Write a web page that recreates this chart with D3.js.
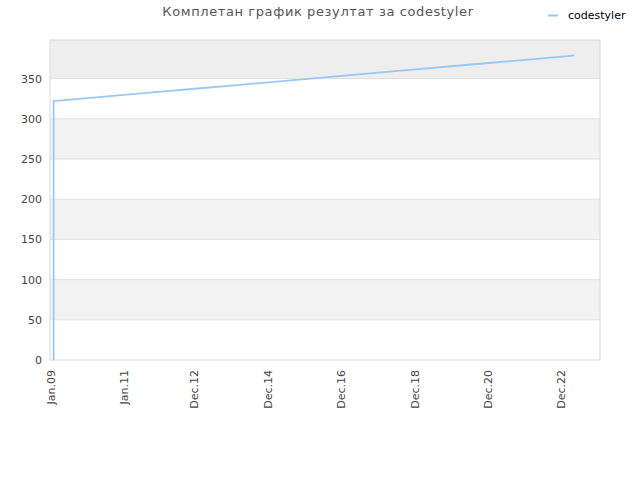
<!DOCTYPE html>
<html>
<head>
<meta charset="utf-8">
<script src="https://cdn.jsdelivr.net/npm/d3@7"></script>
<style>
  body { margin: 0; background: #fff; }
  text { font-family: "DejaVu Sans", sans-serif; }
</style>
</head>
<body>
<div id="chart"></div>
<script>
// data
var dates = ["2009-01-01", "2009-01-01", "2010-01-01", "2011-01-01", "2012-01-01", "2013-01-01",
  "2014-01-01", "2015-01-01", "2016-01-01", "2017-01-01", "2018-01-01", "2019-01-01",
  "2020-01-01", "2021-01-01", "2022-01-01", "2023-01-01", "2023-03-10"];
var values = [0, 322, 326, 330, 334, 338, 342, 346, 350, 354, 358, 362, 366, 370, 374, 378, 379];
var tickDates = ["2009-01-01", "2011-01-01", "2012-12-01", "2014-12-01", "2016-12-01",
  "2018-12-01", "2020-12-01", "2022-12-01"];
var tickLabels = ["Jan.09", "Jan.11", "Dec.12", "Dec.14", "Dec.16", "Dec.18", "Dec.20", "Dec.22"];
var yTicks = [0, 50, 100, 150, 200, 250, 300, 350];
var seriesName = "codestyler";
var title = "Комплетан график резултат за codestyler";

var parse = d3.timeParse("%Y-%m-%d");

var margin = {top: 40, right: 40, bottom: 120, left: 50}
  , width = 640 - margin.left - margin.right
  , height = 480 - margin.top - margin.bottom;

var xScale = d3.scaleTime()
    .domain([parse("2008-11-26"), parse("2023-11-20")])
    .range([0, width]);

var yScale = d3.scaleLinear()
    .domain([0, 398])
    .range([height, 0]);

var svg = d3.select("#chart").append("svg")
    .attr("width", 640)
    .attr("height", 480);

var g = svg.append("g")
    .attr("transform", "translate(" + margin.left + "," + margin.top + ")");

// alternating bands
var bands = yTicks.map(function(d, i) {
  return {lo: d, hi: i + 1 < yTicks.length ? yTicks[i + 1] : yScale.domain()[1], i: i};
});
g.selectAll(".band")
    .data(bands)
    .enter().append("rect")
    .attr("x", 0)
    .attr("width", width)
    .attr("y", function(d) { return yScale(d.hi); })
    .attr("height", function(d) { return yScale(d.lo) - yScale(d.hi); })
    .style("fill", function(d) {
      if (d.i === bands.length - 1) return "#eeeeee";
      return d.i % 2 === 1 ? "#f3f3f3" : "#ffffff";
    });

// grid lines
g.selectAll(".grid")
    .data(yTicks.slice(1))
    .enter().append("line")
    .attr("x1", 0).attr("x2", width)
    .attr("y1", function(d) { return yScale(d); })
    .attr("y2", function(d) { return yScale(d); })
    .style("stroke", "#e0e0e0")
    .style("stroke-width", 1);

g.append("rect")
    .attr("width", width)
    .attr("height", height)
    .style("fill", "none")
    .style("stroke", "#d8d8d8");

// y axis
var yAxis = g.append("g")
    .call(d3.axisLeft(yScale).tickValues(yTicks).tickSize(0).tickPadding(8));
yAxis.select(".domain").remove();
yAxis.selectAll("text")
    .style("font-size", "11px")
    .style("fill", "#444");

// x axis
var xAxis = g.append("g")
    .attr("transform", "translate(0," + height + ")")
    .call(d3.axisBottom(xScale)
      .tickValues(tickDates.map(parse))
      .tickFormat(function(d, i) { return tickLabels[i]; })
      .tickSize(0));
xAxis.select(".domain").remove();
xAxis.selectAll("text")
    .style("font-size", "11px")
    .style("fill", "#444")
    .style("text-anchor", "end")
    .attr("transform", "rotate(-90)")
    .attr("x", -10)
    .attr("y", 0)
    .attr("dy", "0.05em");

// series line
var points = dates.map(function(d, i) { return {date: parse(d), value: values[i]}; });

var line = d3.line()
    .x(function(d) { return xScale(d.date); })
    .y(function(d) { return yScale(d.value); });

g.append("path")
    .datum(points)
    .attr("d", line)
    .style("fill", "none")
    .style("stroke", "#99c8f5")
    .style("stroke-width", 1.8);

// title
svg.append("text")
    .attr("x", 318)
    .attr("y", 16)
    .attr("text-anchor", "middle")
    .style("font-size", "13px")
    .style("letter-spacing", "0.6px")
    .style("fill", "#555")
    .text(title);

// legend
svg.append("line")
    .attr("x1", 548).attr("x2", 558)
    .attr("y1", 15.5).attr("y2", 15.5)
    .style("stroke", "#99c8f5")
    .style("stroke-width", 2);

svg.append("text")
    .attr("x", 568)
    .attr("y", 19)
    .style("font-size", "11px")
    .style("fill", "#000")
    .text(seriesName);
</script>
</body>
</html>
